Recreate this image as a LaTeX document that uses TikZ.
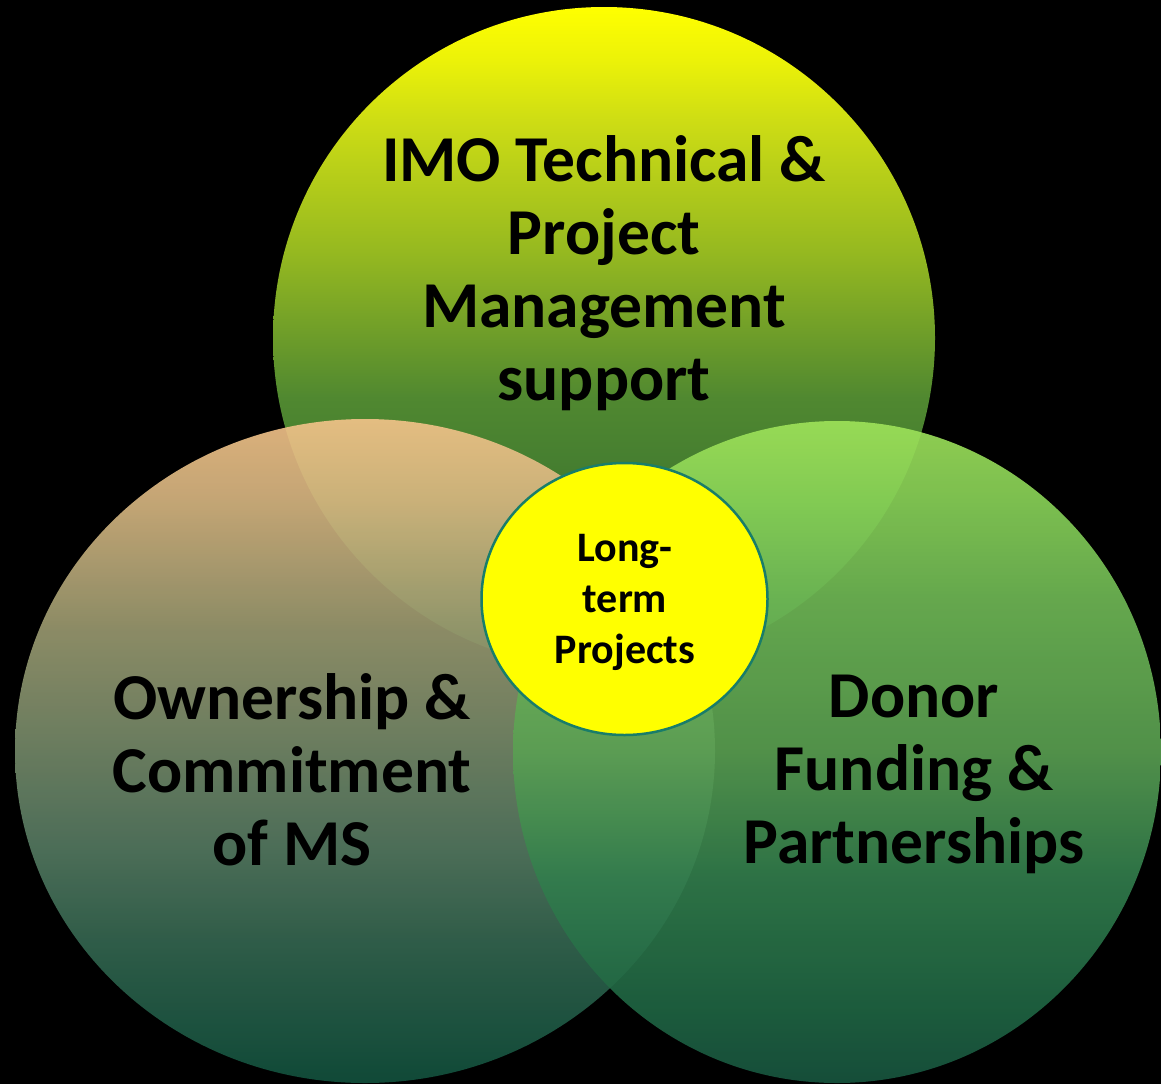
\documentclass[tikz,border=0pt]{standalone}
\usepackage{fontspec}
\setmainfont{Carlito}
% top circle colours
\definecolor{ta}{RGB}{255,255,0}
\definecolor{tb}{RGB}{236,242,8}
\definecolor{tc}{RGB}{206,221,20}
\definecolor{td}{RGB}{150,185,32}
\definecolor{te}{RGB}{80,136,48}
\definecolor{tf}{RGB}{38,96,46}
% left circle colours
\definecolor{la}{RGB}{245,196,138}
\definecolor{lb}{RGB}{218,184,130}
\definecolor{lc}{RGB}{154,154,112}
\definecolor{ld}{RGB}{116,137,105}
\definecolor{le}{RGB}{84,121,97}
\definecolor{lf}{RGB}{50,101,79}
\definecolor{lg}{RGB}{18,82,62}
% right circle colours
\definecolor{ra}{RGB}{160,228,90}
\definecolor{rb}{RGB}{138,212,88}
\definecolor{rc}{RGB}{112,186,86}
\definecolor{rd}{RGB}{90,160,82}
\definecolor{re}{RGB}{50,126,77}
\definecolor{rf}{RGB}{33,104,68}
\definecolor{rg}{RGB}{24,86,64}
\definecolor{ringcol}{RGB}{25,125,105}
\definecolor{hubfill}{RGB}{255,255,0}
\pgfdeclareverticalshading{topshade}{100bp}{color(0bp)=(tf); color(25bp)=(tf); color(45.5bp)=(te); color(56.6bp)=(td); color(66.5bp)=(tc); color(71bp)=(tb); color(75bp)=(ta); color(100bp)=(ta)}
\pgfdeclareverticalshading{leftshade}{100bp}{color(0bp)=(lg); color(25bp)=(lg); color(35bp)=(lf); color(42.5bp)=(le); color(50bp)=(ld); color(59bp)=(lc); color(69bp)=(lb); color(75bp)=(la); color(100bp)=(la)}
\pgfdeclareverticalshading{rightshade}{100bp}{color(0bp)=(rg); color(25bp)=(rg); color(31.5bp)=(rf); color(40.5bp)=(re); color(50bp)=(rd); color(61.5bp)=(rc); color(69bp)=(rb); color(75bp)=(ra); color(100bp)=(ra)}
\begin{document}
\begin{tikzpicture}[x=1pt,y=-1pt,
  bigtext/.style={align=center,anchor=base,text=black,inner sep=0pt,
    font=\fontsize{65.5}{73}\selectfont\bfseries},
  smalltext/.style={align=center,anchor=base,text=black,inner sep=0pt,
    font=\fontsize{42}{51}\selectfont\bfseries},
  bubble/.style={fill opacity=0.9}]
\fill[black] (0,0) rectangle (1161,1084);
\useasboundingbox (0,0) rectangle (1161,1084);
\shade[shading=topshade] (604,338) ellipse [x radius=331, y radius=331];
\shade[shading=leftshade,bubble] (365,751) ellipse [x radius=350, y radius=332];
\shade[shading=rightshade,bubble] (837,752) ellipse [x radius=324, y radius=331];
\draw[fill=hubfill,draw=ringcol,line width=2.5pt] (624.5,599) ellipse [x radius=143, y radius=136];
\node[bigtext] (imo) at (604,400) {IMO Technical \&\\Project\\Management\\support};
\node[bigtext] (own) at (292,865) {Ownership \&\\Commitment\\of MS};
\node[bigtext] (donor) at (914,863) {Donor\\Funding \&\\Partnerships};
\node[smalltext] (ltp) at (625,663) {Long-\\term\\Projects};
\end{tikzpicture}
\end{document}
